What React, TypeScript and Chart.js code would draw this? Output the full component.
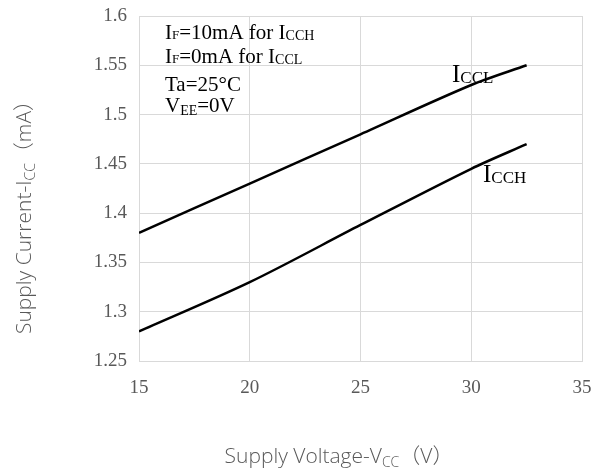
import React, { useEffect, useRef } from "react";
import { Chart, registerables } from "chart.js";

Chart.register(...registerables);

// Supply voltage (V) sample points
const vccValues = [15, 20, 25, 30, 32.5];
// Supply current (mA) with IF = 0 mA
const icclValues = [1.38, 1.43, 1.48, 1.53, 1.55];
// Supply current (mA) with IF = 10 mA
const icchValues = [1.28, 1.33, 1.388, 1.445, 1.47];

const xTickValues = [15, 20, 25, 30, 35];
const yTickValues = [1.25, 1.3, 1.35, 1.4, 1.45, 1.5, 1.55, 1.6];

const SERIF = '"Liberation Serif", "Times New Roman", serif';
const SANS = '"Open Sans", "Noto Sans", "Noto Sans CJK SC", sans-serif';
const TICK_COLOR = "#595959";
const GRID_COLOR = "#d9d9d9";

type Part = { text: string; size: number; family: string; weight?: string; dy?: number };

function measureParts(ctx: CanvasRenderingContext2D, parts: Part[]) {
  let w = 0;
  for (const p of parts) {
    ctx.font = `${p.weight || "normal"} ${p.size}px ${p.family}`;
    w += ctx.measureText(p.text).width;
  }
  return w;
}

function drawParts(ctx: CanvasRenderingContext2D, parts: Part[], x: number, y: number, color: string) {
  let cx = x;
  ctx.fillStyle = color;
  ctx.textBaseline = "alphabetic";
  ctx.textAlign = "left";
  for (const p of parts) {
    ctx.font = `${p.weight || "normal"} ${p.size}px ${p.family}`;
    ctx.fillText(p.text, cx, y + (p.dy || 0));
    cx += ctx.measureText(p.text).width;
  }
}

const main = (text: string, size = 21): Part => ({ text, size, family: SERIF });
const sub = (text: string, size = 14, dy = 2): Part => ({ text, size, family: SERIF, dy });
const sans = (text: string, size = 21, dy = 0): Part => ({ text, size, family: SANS, weight: "300", dy });

const xTitle: Part[] = [sans("Supply Voltage-V"), sans("CC", 14, 4), sans("（V）")];
const yTitle: Part[] = [sans("Supply Current-I"), sans("CC", 14, 4), sans("（mA）")];

const conditionLines: Part[][] = [
  [main("I"), sub("F", 13, 0), main("=10mA for I"), sub("CCH", 14, 1)],
  [main("I"), sub("F", 13, 0), main("=0mA for I"), sub("CCL", 14, 1)],
  [main("Ta=25°C")],
  [main("V"), sub("EE", 14, 3), main("=0V")],
];
const conditionBaselines = [39, 62.5, 90.5, 112];

const icclLabel: Part[] = [main("I", 25), sub("CCL", 17, 1)];
const icchLabel: Part[] = [main("I", 25), sub("CCH", 17, 1)];

const textPlugin = {
  id: "chartText",
  beforeDraw(chart: any) {
    const ctx = chart.ctx as CanvasRenderingContext2D;
    ctx.save();
    ctx.fillStyle = "#ffffff";
    ctx.fillRect(0, 0, chart.width, chart.height);
    ctx.restore();
  },
  afterDraw(chart: any) {
    const ctx = chart.ctx as CanvasRenderingContext2D;
    ctx.save();
    // axis titles
    const xw = measureParts(ctx, xTitle);
    drawParts(ctx, xTitle, 339 - xw / 2, 463, TICK_COLOR);
    const yw = measureParts(ctx, yTitle);
    ctx.save();
    ctx.translate(31, 212);
    ctx.rotate(-Math.PI / 2);
    drawParts(ctx, yTitle, -yw / 2, 0, TICK_COLOR);
    ctx.restore();
    // test conditions
    conditionLines.forEach((line, i) => drawParts(ctx, line, 165, conditionBaselines[i], "#000000"));
    // curve labels
    drawParts(ctx, icclLabel, 452, 82, "#000000");
    drawParts(ctx, icchLabel, 483, 182, "#000000");
    ctx.restore();
  },
};

const clearScalePadding = (scale: any) => {
  scale.paddingLeft = 0;
  scale.paddingRight = 0;
  scale.paddingTop = 0;
  scale.paddingBottom = 0;
};

export default function App() {
  const ref = useRef<HTMLCanvasElement>(null);

  useEffect(() => {
    if (!ref.current) return;
    const chart = new Chart(ref.current, {
      type: "line",
      data: {
        datasets: [
          {
            label: "ICCL",
            data: vccValues.map((x, i) => ({ x, y: icclValues[i] })),
            borderColor: "#000000",
            borderWidth: 2.5,
            pointRadius: 0,
            tension: 0.3,
            fill: false,
          },
          {
            label: "ICCH",
            data: vccValues.map((x, i) => ({ x, y: icchValues[i] })),
            borderColor: "#000000",
            borderWidth: 2.5,
            pointRadius: 0,
            tension: 0.3,
            fill: false,
          },
        ],
      },
      options: {
        responsive: false,
        animation: false,
        devicePixelRatio: 1,
        layout: { padding: { top: 16, right: 21, bottom: 49, left: 0 } },
        plugins: {
          legend: { display: false },
          tooltip: { enabled: false },
          title: { display: false },
        },
        scales: {
          x: {
            type: "linear",
            min: 15,
            max: 35,
            afterBuildTicks: (scale: any) => {
              scale.ticks = xTickValues.map((value) => ({ value }));
            },
            afterFit: (scale: any) => {
              scale.height = 60;
              clearScalePadding(scale);
            },
            ticks: {
              color: TICK_COLOR,
              font: { family: SERIF, size: 19 },
              padding: 16,
              maxRotation: 0,
              callback: (v: any) => String(v),
            },
            grid: { color: GRID_COLOR, drawTicks: false, lineWidth: 1 },
            border: { color: GRID_COLOR },
          },
          y: {
            type: "linear",
            min: 1.25,
            max: 1.6,
            afterBuildTicks: (scale: any) => {
              scale.ticks = yTickValues.map((value) => ({ value }));
            },
            afterFit: (scale: any) => {
              scale.width = 139;
              clearScalePadding(scale);
            },
            ticks: {
              color: TICK_COLOR,
              font: { family: SERIF, size: 19 },
              padding: 12,
              callback: (v: any) => String(v),
            },
            grid: { color: GRID_COLOR, drawTicks: false, lineWidth: 1 },
            border: { color: GRID_COLOR },
          },
        },
      },
      plugins: [textPlugin],
    } as any);
    return () => chart.destroy();
  }, []);

  return (
    <div style={{ position: "fixed", left: 0, top: 0, width: 603, height: 470, background: "#fff" }}>
      <canvas ref={ref} width={603} height={470} style={{ display: "block", width: 603, height: 470 }} />
    </div>
  );
}
